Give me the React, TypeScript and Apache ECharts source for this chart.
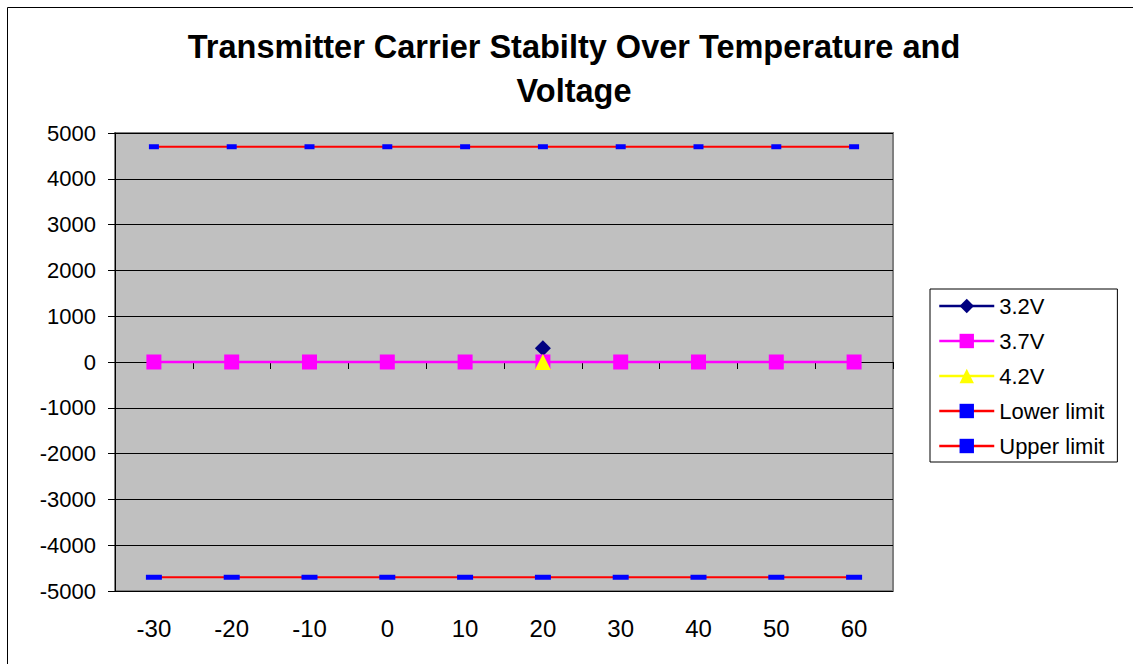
import React, { useEffect, useRef } from "react";
import * as echarts from "echarts";

const categories = ["-30", "-20", "-10", "0", "10", "20", "30", "40", "50", "60"];
const v32 = [null, null, null, null, null, 300, null, null, null, null];
const v37 = [0, 0, 0, 0, 0, 0, 0, 0, 0, 0];
const v42 = [null, null, null, null, null, 0, null, null, null, null];
const lowerLimit = [-4700, -4700, -4700, -4700, -4700, -4700, -4700, -4700, -4700, -4700];
const upperLimit = [4700, 4700, 4700, 4700, 4700, 4700, 4700, 4700, 4700, 4700];
const titleText = "Transmitter Carrier Stabilty Over Temperature and\nVoltage";

export default function App() {
  const ref = useRef<HTMLDivElement>(null);
  useEffect(() => {
    document.body.style.margin = "0";
    const chart = echarts.init(ref.current!, null, { renderer: "svg" });
    const font = "Liberation Sans, Arial, sans-serif";
    chart.setOption({
      animation: false,
      backgroundColor: "#fff",
      textStyle: { fontFamily: font },
      graphic: [
        {
          type: "rect",
          shape: { x: 7.5, y: 7.5, width: 1200, height: 800 },
          style: { fill: "none", stroke: "#000", lineWidth: 1 },
          silent: true,
        },
        {
          type: "text",
          x: 574,
          y: 25,
          style: {
            text: titleText,
            textAlign: "center",
            textVerticalAlign: "top",
            font: "bold 32.5px " + font,
            lineHeight: 44,
            fill: "#000",
          },
        },
      ],
      grid: {
        left: 115,
        top: 133,
        width: 778,
        height: 458,
        show: true,
        backgroundColor: "#C0C0C0",
        borderColor: "#808080",
        borderWidth: 2,
        outerBoundsMode: "none",
        containLabel: false,
      },
      legend: {
        orient: "vertical",
        left: 930,
        top: 289,
        padding: [6, 13, 5, 8],
        itemWidth: 55,
        itemHeight: 18,
        itemGap: 13,
        borderColor: "#000",
        borderWidth: 1,
        lineStyle: { width: 2.5 },
        textStyle: { fontSize: 22, color: "#000", fontFamily: font },
        data: ["3.2V", "3.7V", "4.2V", "Lower limit", "Upper limit"],
      },
      xAxis: {
        type: "category",
        data: categories,
        boundaryGap: true,
        axisLine: { show: true, lineStyle: { color: "#000", width: 1 } },
        axisTick: { show: true, alignWithLabel: false, interval: 0, length: 7, lineStyle: { color: "#000" } },
        axisLabel: { interval: 0, fontSize: 24, color: "#000", margin: 25, fontFamily: font },
        splitLine: { show: false },
      },
      yAxis: {
        type: "value",
        min: -5000,
        max: 5000,
        interval: 1000,
        axisLine: { show: true, lineStyle: { color: "#000", width: 1 } },
        axisTick: { show: true, length: 7, lineStyle: { color: "#000" } },
        axisLabel: {
          fontSize: 22,
          color: "#000",
          margin: 19,
          fontFamily: font,
          formatter: (v: number) => String(v),
        },
        splitLine: { show: true, lineStyle: { color: "#000", width: 1 } },
      },
      series: [
        {
          name: "Lower limit",
          type: "line",
          data: lowerLimit,
          symbol: "rect",
          symbolSize: [16, 5],
          itemStyle: { color: "#0000FF" },
          lineStyle: { color: "#FF0000", width: 2 },
          z: 2,
        },
        {
          name: "Upper limit",
          type: "line",
          data: upperLimit,
          symbol: "rect",
          symbolSize: [10, 5],
          itemStyle: { color: "#0000FF" },
          lineStyle: { color: "#FF0000", width: 2 },
          z: 2,
        },
        {
          name: "3.2V",
          type: "line",
          data: v32,
          symbol: "diamond",
          symbolSize: 16,
          itemStyle: { color: "#000080" },
          lineStyle: { color: "#000080", width: 2 },
          z: 3,
        },
        {
          name: "3.7V",
          type: "line",
          data: v37,
          symbol: "rect",
          symbolSize: 15,
          itemStyle: { color: "#FF00FF" },
          lineStyle: { color: "#FF00FF", width: 2.5 },
          z: 4,
        },
        {
          name: "4.2V",
          type: "line",
          data: v42,
          symbol: "triangle",
          symbolSize: 16,
          itemStyle: { color: "#FFFF00" },
          lineStyle: { color: "#FFFF00", width: 2 },
          z: 5,
        },
      ],
    });
    return () => chart.dispose();
  }, []);
  return <div ref={ref} style={{ width: 1133, height: 664 }} />;
}
